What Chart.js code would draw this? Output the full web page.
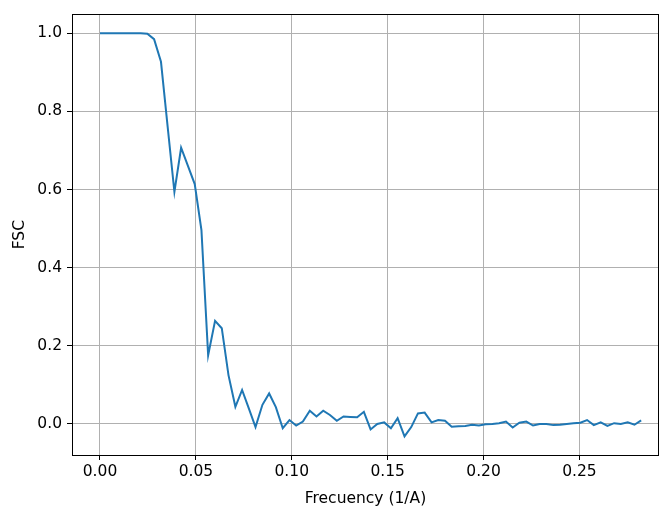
<!DOCTYPE html>
<html>
<head>
<meta charset="utf-8">
<script src="https://cdn.jsdelivr.net/npm/chart.js@4/dist/chart.umd.min.js"></script>
<style>
  html, body { margin: 0; padding: 0; background: #fff; }
  #wrap { width: 659px; height: 510px; }
</style>
</head>
<body>
<div id="wrap"><canvas id="myChart" width="659" height="510"></canvas></div>
<script>
// frequency (1/A) of each FSC sample
const frequencies = [
  0.0000, 0.0035, 0.0071, 0.0106, 0.0141, 0.0176, 0.0212, 0.0247, 0.0282, 0.0318,
  0.0353, 0.0388, 0.0423, 0.0459, 0.0494, 0.0529, 0.0564, 0.0600, 0.0635, 0.0670,
  0.0706, 0.0741, 0.0776, 0.0811, 0.0847, 0.0882, 0.0917, 0.0953, 0.0988, 0.1023,
  0.1058, 0.1094, 0.1129, 0.1164, 0.1199, 0.1235, 0.1270, 0.1305, 0.1341, 0.1376,
  0.1411, 0.1446, 0.1482, 0.1517, 0.1552, 0.1588, 0.1623, 0.1658, 0.1693, 0.1729,
  0.1764, 0.1799, 0.1834, 0.1870, 0.1905, 0.1940, 0.1976, 0.2011, 0.2046, 0.2081,
  0.2117, 0.2152, 0.2187, 0.2223, 0.2258, 0.2293, 0.2328, 0.2364, 0.2399, 0.2434,
  0.2469, 0.2505, 0.2540, 0.2575, 0.2611, 0.2646, 0.2681, 0.2716, 0.2752, 0.2787,
  0.2822
];
const fscValues = [
  1.000, 1.000, 1.000, 1.000, 1.000, 1.000, 1.000, 0.999, 0.985, 0.927,
  0.760, 0.594, 0.707, 0.660, 0.614, 0.496, 0.176, 0.264, 0.245, 0.125,
  0.044, 0.087, 0.040, -0.008, 0.049, 0.078, 0.043, -0.011, 0.010, -0.004,
  0.006, 0.034, 0.019, 0.034, 0.023, 0.008, 0.019, 0.018, 0.017, 0.031,
  -0.014, 0.000, 0.004, -0.011, 0.015, -0.032, -0.008, 0.027, 0.029, 0.004,
  0.010, 0.008, -0.007, -0.006, -0.005, -0.002, -0.004, -0.001, 0.000, 0.002,
  0.006, -0.009, 0.003, 0.006, -0.004, 0.000, 0.000, -0.003, -0.002, 0.000,
  0.002, 0.003, 0.010, -0.003, 0.004, -0.005, 0.002, 0.000, 0.004, -0.002,
  0.009
];

const font = { family: 'DejaVu Sans', size: 15.5 };

const frame = {
  id: 'frame',
  afterDraw(c) {
    const a = c.chartArea;
    const ctx = c.ctx;
    ctx.save();
    ctx.strokeStyle = '#000';
    ctx.lineWidth = 1;
    ctx.strokeRect(Math.round(a.left) + 0.5, Math.round(a.top) + 0.5,
      Math.round(a.right - a.left) - 1, Math.round(a.bottom - a.top));
    ctx.restore();
  }
};

const ctx = document.getElementById('myChart');
const chart = new Chart(ctx, {
  type: 'line',
  data: {
    datasets: [{
      data: frequencies.map((f, i) => ({ x: f, y: fscValues[i] })),
      borderColor: '#1f77b4',
      borderWidth: 2,
      pointRadius: 0,
      tension: 0,
      fill: false
    }]
  },
  options: {
    responsive: false,
    animation: false,
    layout: { padding: { top: 14, right: 0, left: 0, bottom: 0 } },
    plugins: { legend: { display: false }, tooltip: { enabled: false } },
    scales: {
      x: {
        type: 'linear',
        min: -0.0146,
        max: 0.2915,
        afterFit(s) { s.height = 55; },
        ticks: {
          stepSize: 0.05,
          includeBounds: false,
          color: '#000',
          font: font,
          padding: 3,
          maxRotation: 0,
          callback: v => v.toFixed(2)
        },
        grid: { color: '#b0b0b0', lineWidth: 1, tickColor: '#000', tickLength: 5 },
        border: { color: '#000', width: 1 },
        title: { display: true, text: 'Frecuency (1/A)', color: '#000', font: font, padding: { top: 0, bottom: 2 } }
      },
      y: {
        min: -0.0795,
        max: 1.0486,
        afterFit(s) { s.width = 72; },
        ticks: {
          stepSize: 0.2,
          includeBounds: false,
          color: '#000',
          font: font,
          padding: 5,
          callback: v => v.toFixed(1)
        },
        grid: { color: '#b0b0b0', lineWidth: 1, tickColor: '#000', tickLength: 5 },
        border: { color: '#000', width: 1 },
        title: { display: true, text: 'FSC', color: '#000', font: font, padding: { top: 10.5, bottom: 0 } }
      }
    }
  },
  plugins: [frame]
});
</script>
</body>
</html>
